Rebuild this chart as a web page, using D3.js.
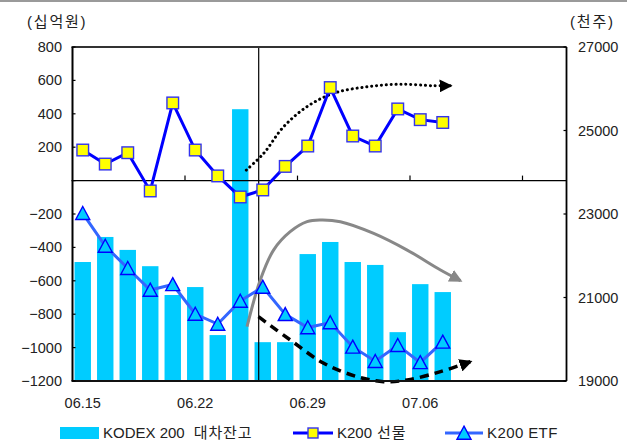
<!DOCTYPE html>
<html lang="ko">
<head>
<meta charset="utf-8">
<script src="https://cdn.jsdelivr.net/npm/d3@7"></script>
<style>
  html, body { margin: 0; padding: 0; background: #fff; }
  svg { display: block; }
  text { font-family: "Liberation Sans", Arial, "Noto Sans CJK KR", sans-serif; fill: #222; }
</style>
</head>
<body>
<svg id="chart" width="627" height="441"></svg>
<script>
// Trading days (two extra blank weeks keep room on the right)
const categories = ["06.15","06.16","06.17","06.18","06.19","06.22","06.23","06.24","06.25","06.26",
  "06.29","06.30","07.01","07.02","07.03","07.06","07.07","07.08","07.09","07.10","07.13","07.14"];
const dateLabels = ["06.15","06.22","06.29","07.06"];

// KODEX 200 대차잔고 (천주, right axis)
const lendingBalance = [21850, 22450, 22140, 21750, 21060, 21250, 20100, 25510, 19930, 19930,
  22040, 22330, 21850, 21780, 20170, 21320, 21130];
// K200 선물 (십억원, left axis)
const futuresNet = [183, 99, 167, -62, 465, 183, 28, -98, -56, 85, 207, 557, 267, 207, 429, 365, 348];
// K200 ETF (십억원, left axis)
const etfNet = [-196, -392, -525, -655, -622, -799, -859, -721, -637, -801, -880, -850, -996, -1082, -986, -1089, -966];

const leftTicks = [800, 600, 400, 200, 0, -200, -400, -600, -800, -1000, -1200];
const rightTicks = [27000, 25000, 23000, 21000, 19000];

// Trend arrows, as [category position, 십억원] pairs
const dottedTrend = [[7.27, 63], [8.04, 163], [8.93, 323], [9.97, 443], [11.15, 523],
  [12.64, 562], [14.12, 577], [15.6, 568], [16.34, 568]];
const grayTrend = [[7.3, -875], [7.89, -595], [8.48, -416], [9.22, -306], [9.97, -246],
  [10.56, -236], [11.45, -246], [12.93, -316], [14.42, -416], [15.9, -535], [16.79, -599]];
const dashedTrend = [[7.81, -815], [9.22, -954], [10.69, -1092], [12.19, -1174], [13.37, -1204],
  [14.42, -1194], [15.9, -1144], [17.23, -1084]];
const dividerPos = 7.82; // vertical divider, in category units

const svg = d3.select("#chart");
const plot = { left: 71.5, right: 566.5, top: 47, bottom: 381 };

const x = d3.scaleBand().domain(categories).range([plot.left, plot.right])
  .paddingInner(0.27).paddingOuter(0.135);
const xPos = t => x(categories[0]) + x.bandwidth() / 2 + t * x.step();
const yL = d3.scaleLinear().domain([-1200, 800]).range([plot.bottom, plot.top]);
const yR = d3.scaleLinear().domain([19000, 27000]).range([plot.bottom, plot.top]);

// top strip
svg.append("rect").attr("x", 0).attr("y", 0).attr("width", 627).attr("height", 2).attr("fill", "#9a9a9a");

// arrow markers
const defs = svg.append("defs");
function arrowMarker(id, color) {
  defs.append("marker").attr("id", id).attr("markerUnits", "userSpaceOnUse")
    .attr("viewBox", "0 -6 12 12").attr("refX", 10).attr("refY", 0)
    .attr("markerWidth", 13).attr("markerHeight", 13).attr("orient", "auto")
    .append("path").attr("d", "M0,-6L12,0L0,6Z").attr("fill", color);
}
arrowMarker("arrBlack", "#000");
arrowMarker("arrGray", "#888");

// bars
svg.append("g").selectAll("rect").data(lendingBalance).join("rect")
  .attr("x", (d, i) => x(categories[i]))
  .attr("width", x.bandwidth())
  .attr("y", d => yR(d))
  .attr("height", d => yR(19000) - yR(d))
  .attr("fill", "#00CCFF");

// vertical divider
svg.append("line")
  .attr("x1", xPos(dividerPos)).attr("x2", xPos(dividerPos))
  .attr("y1", plot.top).attr("y2", plot.bottom)
  .attr("stroke", "#000").attr("stroke-width", 1.2);

// zero line with weekly ticks
svg.append("line").attr("x1", plot.left).attr("x2", plot.right)
  .attr("y1", yL(0)).attr("y2", yL(0)).attr("stroke", "#000").attr("stroke-width", 1.2);
[5, 10, 15, 20].forEach(k => {
  const xx = x(categories[k]) - x.step() * x.paddingInner() / 2 + 1;
  svg.append("line").attr("x1", xx).attr("x2", xx)
    .attr("y1", yL(0)).attr("y2", yL(0) - 5).attr("stroke", "#000").attr("stroke-width", 1.2);
});

// trend arrows
const trendLine = d3.line().x(d => xPos(d[0])).y(d => yL(d[1])).curve(d3.curveCatmullRom);
svg.append("path").attr("d", trendLine(grayTrend)).attr("fill", "none")
  .attr("stroke", "#888").attr("stroke-width", 3).attr("marker-end", "url(#arrGray)");
svg.append("path").attr("d", trendLine(dashedTrend)).attr("fill", "none")
  .attr("stroke", "#000").attr("stroke-width", 3.5).attr("stroke-dasharray", "9,6")
  .attr("marker-end", "url(#arrBlack)");
svg.append("path").attr("d", trendLine(dottedTrend)).attr("fill", "none")
  .attr("stroke", "#000").attr("stroke-width", 3).attr("stroke-dasharray", "0.1,4.8")
  .attr("stroke-linecap", "round").attr("marker-end", "url(#arrBlack)");

// ETF line
const lineL = d3.line().x((d, i) => x(categories[i]) + x.bandwidth() / 2).y(d => yL(d));
const triPath = "M0,-6.8L7,6.2L-7,6.2Z";
svg.append("path").attr("d", lineL(etfNet)).attr("fill", "none")
  .attr("stroke", "#3366FF").attr("stroke-width", 3);
svg.append("g").selectAll("path").data(etfNet).join("path")
  .attr("transform", (d, i) => `translate(${x(categories[i]) + x.bandwidth() / 2},${yL(d)})`)
  .attr("d", triPath).attr("fill", "#00CCFF").attr("stroke", "#0000FF").attr("stroke-width", 1.4);

// futures line
svg.append("path").attr("d", lineL(futuresNet)).attr("fill", "none")
  .attr("stroke", "#0000FF").attr("stroke-width", 3);
svg.append("g").selectAll("rect").data(futuresNet).join("rect")
  .attr("x", (d, i) => x(categories[i]) + x.bandwidth() / 2 - 5.8)
  .attr("y", d => yL(d) - 5.8)
  .attr("width", 11.6).attr("height", 11.6)
  .attr("fill", "#FFFF00").attr("stroke", "#3333EE").attr("stroke-width", 1.4);

// frame
svg.append("line").attr("x1", plot.left).attr("x2", plot.right).attr("y1", plot.top).attr("y2", plot.top)
  .attr("stroke", "#333").attr("stroke-width", 1.8);
svg.append("line").attr("x1", plot.left).attr("x2", plot.right).attr("y1", plot.bottom).attr("y2", plot.bottom)
  .attr("stroke", "#111").attr("stroke-width", 1.8);
svg.append("line").attr("x1", plot.left + 1).attr("x2", plot.left + 1).attr("y1", plot.top).attr("y2", plot.bottom)
  .attr("stroke", "#000").attr("stroke-width", 2);
svg.append("line").attr("x1", plot.right).attr("x2", plot.right).attr("y1", plot.top).attr("y2", plot.bottom)
  .attr("stroke", "#000").attr("stroke-width", 1.8);

// left axis
const fmt = v => v < 0 ? "\u2212" + Math.abs(v) : String(v);
const gL = svg.append("g");
leftTicks.forEach(v => {
  gL.append("line").attr("x1", plot.left + 1).attr("x2", plot.left + 4)
    .attr("y1", yL(v)).attr("y2", yL(v)).attr("stroke", "#000").attr("stroke-width", 1.2);
  if (v !== 0) {
    gL.append("text").attr("x", 62).attr("y", yL(v)).attr("dy", "0.35em")
      .attr("text-anchor", "end").attr("font-size", 14.5).text(fmt(v));
  }
});
// right axis
const gR = svg.append("g");
rightTicks.forEach(v => {
  gR.append("line").attr("x1", plot.right - 3).attr("x2", plot.right)
    .attr("y1", yR(v)).attr("y2", yR(v)).attr("stroke", "#000").attr("stroke-width", 1.2);
  gR.append("text").attr("x", 578).attr("y", yR(v)).attr("dy", "0.35em")
    .attr("text-anchor", "start").attr("font-size", 14.5).text(v);
});

// unit captions
svg.append("text").attr("x", 27).attr("y", 27).attr("font-size", 15)
  .attr("letter-spacing", 1.8).text("(십억원)");
svg.append("text").attr("x", 570).attr("y", 27).attr("font-size", 15)
  .attr("letter-spacing", 1.8).text("(천주)");

// date labels
dateLabels.forEach(lbl => {
  svg.append("text").attr("x", x(lbl) + x.bandwidth() / 2).attr("y", 408)
    .attr("text-anchor", "middle").attr("font-size", 14.5).text(lbl);
});

// legend
const ly = 433;
const lg = svg.append("g");
lg.append("rect").attr("x", 60).attr("y", ly - 6).attr("width", 39).attr("height", 12).attr("fill", "#00CCFF");
const t1 = lg.append("text").attr("x", 103).attr("y", ly).attr("dy", "0.36em").attr("font-size", 15);
t1.append("tspan").text("KODEX 200");
t1.append("tspan").attr("dx", 9).attr("letter-spacing", 0.9).text("대차잔고");
lg.append("line").attr("x1", 293).attr("x2", 333).attr("y1", ly).attr("y2", ly)
  .attr("stroke", "#0000FF").attr("stroke-width", 3);
lg.append("rect").attr("x", 313 - 5).attr("y", ly - 5).attr("width", 10).attr("height", 10)
  .attr("fill", "#FFFF00").attr("stroke", "#3333EE").attr("stroke-width", 1.4);
const t2 = lg.append("text").attr("x", 337).attr("y", ly).attr("dy", "0.36em").attr("font-size", 15);
t2.append("tspan").text("K200");
t2.append("tspan").attr("dx", 5).attr("letter-spacing", 0.8).text("선물");
lg.append("line").attr("x1", 445).attr("x2", 483).attr("y1", ly).attr("y2", ly)
  .attr("stroke", "#3366FF").attr("stroke-width", 3);
lg.append("path").attr("transform", `translate(464,${ly})`).attr("d", triPath)
  .attr("fill", "#00CCFF").attr("stroke", "#0000FF").attr("stroke-width", 1.4);
lg.append("text").attr("x", 487).attr("y", ly).attr("dy", "0.36em").attr("font-size", 15)
  .attr("letter-spacing", 0.4).text("K200 ETF");
</script>
</body>
</html>
